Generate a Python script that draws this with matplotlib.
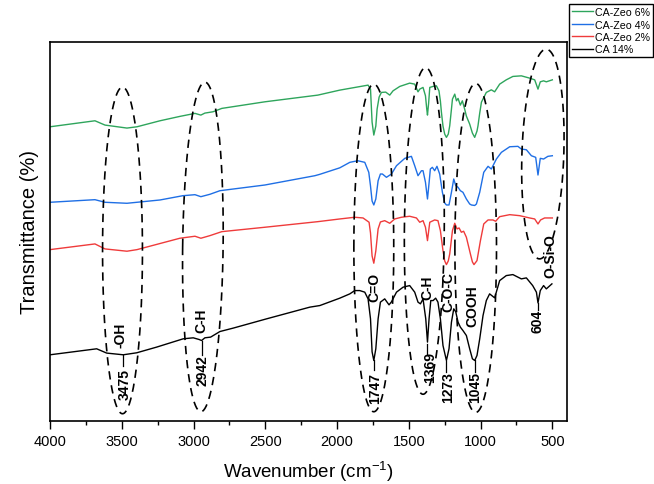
import numpy as np
import matplotlib
matplotlib.use("Agg")
import matplotlib.pyplot as plt

plt.rcParams['font.family'] = ['Liberation Sans', 'DejaVu Sans']
plt.rcParams['mathtext.fontset'] = 'custom'
plt.rcParams['mathtext.rm'] = 'Liberation Sans'
plt.rcParams['mathtext.default'] = 'regular'

# FTIR spectra: wavenumber (cm-1) and stacked transmittance (arb. units)
wn_ca = [4000, 3675, 3605, 3490, 3396, 3257, 3072, 3002, 2961, 2944, 2921, 2881, 2816, 2724, 2491, 2190,
         2120, 1981, 1911, 1877, 1842, 1807, 1784, 1767, 1756, 1744, 1730, 1714, 1698, 1668, 1638, 1621,
         1586, 1540, 1494, 1459, 1436, 1419, 1401, 1382, 1370, 1359, 1347, 1331, 1313, 1297, 1280, 1262,
         1238, 1220, 1203, 1187, 1173, 1157, 1141, 1123, 1099, 1076, 1057, 1041, 1025, 1006, 983, 960,
         937, 902, 867, 821, 775, 716, 681, 637, 611, 600, 584, 561, 542, 503]
t_ca = [66, 72, 67.7, 66, 68, 73.7, 82, 83, 81.3, 80.3, 83, 83.7, 89.3, 92.7, 102, 113.7,
        115.3, 122.7, 127, 130.3, 130.3, 128.7, 122, 102, 69, 60.3, 72, 102, 118.7, 122, 116, 119,
        128.7, 133.7, 135.3, 128.7, 118.7, 117, 122, 102, 78.7, 102, 120.3, 120.3, 122.7, 118.7, 102, 75.3,
        60.3, 72, 98.7, 112, 109, 98.7, 93.7, 90.3, 85.3, 72, 62, 60.3, 65.3, 82, 105.3, 120.3,
        127, 123, 140.3, 145.3, 146.3, 142, 143, 135.3, 128.7, 118, 130.3, 135.3, 132, 137]

wn_z2 = [4000, 3687, 3617, 3464, 3394, 3095, 2990, 2949, 2886, 2803, 2503, 2134, 1981, 1877, 1819, 1777,
         1767, 1756, 1744, 1730, 1714, 1698, 1668, 1633, 1598, 1552, 1494, 1447, 1424, 1401, 1384, 1370,
         1359, 1354, 1320, 1297, 1280, 1262, 1250, 1238, 1225, 1215, 1196, 1180, 1164, 1150, 1134, 1118,
         1099, 1071, 1057, 1046, 1025, 1001, 978, 948, 914, 895, 867, 797, 728, 658, 623, 600, 582, 554, 500]
t_z2 = [171.3, 177, 172, 169.7, 171.3, 182.7, 184.7, 182.7, 185.3, 189.3, 193.7, 199.3, 202, 203.7, 203, 198.7,
        188, 165, 157.7, 170, 192, 199, 200.3, 197.7, 202, 203.7, 204.7, 203, 198.7, 200.3, 193.7, 180.3,
        193, 198.7, 201, 200.3, 190.3, 170.3, 160, 156.3, 160, 167, 190.3, 197.7, 192, 193, 188.7, 189.7,
        183.7, 167, 159, 156.3, 160.3, 180.3, 197, 201, 201, 199.7, 204.3, 206.3, 205.3, 203, 202, 197, 201, 203, 203]

wn_z4 = [4000, 3687, 3617, 3464, 3234, 3074, 2990, 2949, 2886, 2816, 2503, 2155, 2120, 1981, 1911, 1856,
         1807, 1779, 1767, 1756, 1744, 1730, 1714, 1698, 1684, 1656, 1621, 1586, 1528, 1482, 1459, 1436,
         1412, 1401, 1384, 1370, 1359, 1350, 1336, 1320, 1304, 1285, 1266, 1250, 1238, 1220, 1203, 1187,
         1173, 1157, 1141, 1123, 1099, 1076, 1064, 1041, 1029, 1006, 978, 948, 925, 890, 855, 797,
         740, 716, 681, 646, 616, 600, 584, 561, 531, 500]
t_z4 = [218.7, 221.3, 218.7, 217.7, 221, 225.3, 226.3, 224.3, 226.7, 230.3, 236, 245.3, 246.7, 253.2, 258.7, 260.3,
        258.7, 248.7, 235, 220, 216, 222, 240.3, 247, 247, 243.7, 247, 255.3, 262.7, 264.7, 255.3, 245.3,
        250.3, 250.3, 238.7, 222, 238, 252, 253.7, 250.3, 254.7, 247, 228.7, 218, 216, 216, 228.7, 242,
        235.3, 233.7, 230.3, 228.7, 222, 217, 216, 215.5, 217, 228.7, 248.7, 254.7, 252, 262, 268.7, 274.3,
        274.7, 272, 271.3, 265.3, 263.7, 246, 262.7, 262, 264.7, 265.3]

wn_z6 = [4000, 3687, 3617, 3464, 3394, 3234, 3095, 2990, 2949, 2921, 2865, 2803, 2503, 2134, 1981, 1784,
         1767, 1756, 1744, 1730, 1721, 1707, 1691, 1661, 1633, 1610, 1563, 1494, 1459, 1436, 1424, 1401,
         1384, 1375, 1370, 1362, 1354, 1331, 1308, 1290, 1280, 1273, 1262, 1250, 1238, 1225, 1215, 1203,
         1196, 1180, 1168, 1157, 1141, 1127, 1111, 1099, 1076, 1057, 1041, 1025, 1018, 1006, 994, 960,
         925, 902, 867, 821, 775, 716, 658, 623, 600, 584, 561, 542, 500]
t_z6 = [294.3, 300.3, 296, 293, 294.3, 300.3, 304.7, 307.7, 306, 308, 309.3, 312.7, 319.3, 326, 331, 336,
        332, 299, 286, 295, 312, 324, 328.7, 329, 326, 330.3, 334.7, 338, 337, 329.3, 332, 333.7,
        325.3, 312, 306, 318, 333.7, 334.7, 335.3, 330.3, 320, 309, 295, 287, 283.7, 287, 295.3, 312,
        322, 327, 320.3, 322.7, 316, 320.3, 312, 305, 297, 288, 283.7, 290, 295.3, 308, 319, 328.7,
        331.3, 329.3, 337, 341.3, 344.7, 345.3, 343, 341.3, 332, 339.3, 340.3, 339.3, 341.3]

series = [("CA-Zeo 6%", wn_z6, t_z6, "#2ea55c"),
          ("CA-Zeo 4%", wn_z4, t_z4, "#1f6fe5"),
          ("CA-Zeo 2%", wn_z2, t_z2, "#ef3b3b"),
          ("CA 14%", wn_ca, t_ca, "black")]

# dashed ellipses: centre wn, centre t, half width (cm-1), half height, lean of top (cm-1)
ell_cx = [3495, 2935, 1744, 1392, 1034, 566]
ell_cy = [170.5, 174, 173, 190, 173, 267]
ell_rx = [139, 141, 139, 139, 145, 146]
ell_ry = [163.5, 165, 164, 163.5, 164.7, 105]
ell_lean = [0, -14, 0, -9, 0, -23]

# band labels (text, wn, t)
labels = [("-OH", 3508, 86), ("3475", 3478, 37), ("C-H", 2944, 101), ("2942", 2935, 51),
          ("C=O", 1737, 134.5), ("1747", 1737, 33), ("C-H", 1373, 134), ("1369", 1350, 54.5),
          ("C-O-C", 1227, 130), ("1273", 1227, 34), ("COOH", 1057, 116), ("1045", 1041, 34),
          ("O-Si-O", 514, 165.5), ("604", 600, 100.5)]
# leader lines from peak down to the number (wn, t_top, t_bottom)
leaders = [(3490, 66, 54.7), (2944, 80.3, 66), (1744, 60.3, 50.3), (1370, 77, 67),
           (1238, 59.3, 49), (1041, 60.3, 48.7), (600, 118, 111)]

fig = plt.figure(figsize=(6.54, 4.85), dpi=100)
ax = fig.add_axes([0.0765, 0.1305, 0.79, 0.7815])

for lab, w, t, c in series:
    ax.plot(w, t, color=c, lw=1.0, label=lab)

th = np.linspace(0, 2 * np.pi, 200)
for cx, cy, rx, ry, ln in zip(ell_cx, ell_cy, ell_rx, ell_ry, ell_lean):
    ax.plot(cx + rx * np.cos(th) + ln * np.sin(th), cy + ry * np.sin(th),
            color="black", lw=1.2, ls=(0, (5, 3.5)))

for w, t0, t1 in leaders:
    ax.plot([w, w], [t0, t1], color="black", lw=0.9)
for txt, w, t in labels:
    ax.text(w, t, txt, rotation=90, ha="center", va="center", fontsize=10, fontweight="bold")

ax.set_xlim(4000, 400)
ax.set_ylim(0, 379.5)
ax.set_xticks([4000, 3500, 3000, 2500, 2000, 1500, 1000, 500])
ax.set_xticks(np.arange(3750, 400, -500), minor=True)
ax.set_yticks([])
ax.tick_params(axis="x", which="major", direction="out", length=6, width=1, labelsize=10.5)
ax.tick_params(axis="x", which="minor", direction="out", length=3, width=1)
for s in ax.spines.values():
    s.set_linewidth(1.2)
ax.set_xlabel("Wavenumber (cm$^{-1}$)", fontsize=13.5, labelpad=8)
ax.set_ylabel("Transmittance (%)", fontsize=14.5, labelpad=8)

leg = fig.legend(loc="upper left", bbox_to_anchor=(569 / 654, 1 - 5 / 485), fontsize=7.7,
                 frameon=True, fancybox=False, framealpha=1, edgecolor="black",
                 handlelength=1.9, handletextpad=0.2, labelspacing=0.22, borderpad=0.3,
                 borderaxespad=0)
leg.get_frame().set_linewidth(1)

fig.savefig("out.png", dpi=100)
